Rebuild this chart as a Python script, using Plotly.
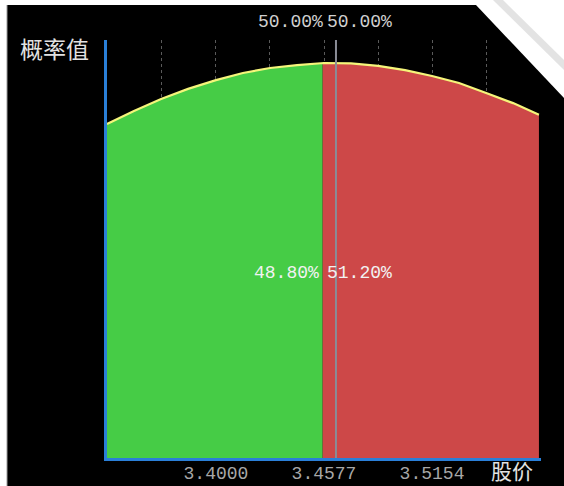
import numpy as np
import plotly.graph_objects as go

# ---- data ----
prices = [3.3418, 3.3562, 3.3707, 3.3851, 3.4000, 3.4144, 3.4289, 3.4433, 3.4577,
          3.4721, 3.4866, 3.5010, 3.5154, 3.5298, 3.5443, 3.5587, 3.5725]
probs = [0.0799, 0.0830, 0.0859, 0.0883, 0.0904, 0.0921, 0.0933, 0.0940, 0.0945,
         0.0944, 0.0938, 0.0928, 0.0914, 0.0897, 0.0873, 0.0849, 0.0821]
split_price = 3.4570          # green / red boundary
current_price = 3.4641        # gray marker line
grid_vals = [3.3711, 3.4000, 3.4288, 3.4577, 3.4866, 3.5154, 3.5443]
grid_text = ["", "3.4000", "", "3.4577", "", "3.5154", ""]
left_pct, right_pct = "48.80%", "51.20%"
top_left_pct, top_right_pct = "50.00%", "50.00%"
x_range = [3.3418, 3.5736]
y_range = [0, 0.1]

W, H = 564, 486
L, R, T, B = 107, 23, 40, 28

px = np.array(prices)
py = np.array(probs)
ys = float(np.interp(split_price, px, py))
gx = list(px[px < split_price]) + [split_price]
gy = list(py[px < split_price]) + [ys]
rx = [split_price] + list(px[px > split_price])
ry = [ys] + list(py[px > split_price])

fig = go.Figure()
fig.add_trace(go.Scatter(x=gx, y=gy, mode="lines", fill="tozeroy",
                         fillcolor="#46CC46", line=dict(width=0, color="#46CC46"),
                         hoverinfo="skip", showlegend=False))
fig.add_trace(go.Scatter(x=rx, y=ry, mode="lines", fill="tozeroy",
                         fillcolor="#CD4848", line=dict(width=0, color="#CD4848"),
                         hoverinfo="skip", showlegend=False))
fig.add_trace(go.Scatter(x=prices, y=probs, mode="lines",
                         line=dict(width=2.2, color="#F5F57A"),
                         hoverinfo="skip", showlegend=False))

mono = "Liberation Mono, DejaVu Sans Mono, monospace"
cjk = "Noto Sans CJK SC"

def pxx(p):
    return (p - L) / (W - L - R)

def pxy(p):
    return (H - B - p) / (H - T - B)

shapes = [
    # current price line
    dict(type="line", xref="x", yref="paper", x0=current_price, x1=current_price,
         y0=0, y1=1, line=dict(color="#8A8C96", width=2), layer="above"),
    # screenshot white border (left, top) and page curl
    dict(type="rect", xref="paper", yref="paper", x0=pxx(0), x1=pxx(7), y0=pxy(0), y1=pxy(H),
         fillcolor="white", line=dict(width=0), layer="above"),
    dict(type="line", xref="paper", yref="paper", x0=pxx(7), x1=pxx(7), y0=pxy(5), y1=pxy(H),
         line=dict(color="#9a9a9a", width=1), layer="above"),
    dict(type="rect", xref="paper", yref="paper", x0=pxx(0), x1=pxx(W), y0=pxy(0), y1=pxy(5),
         fillcolor="white", line=dict(width=0), layer="above"),
    dict(type="path", xref="paper", yref="paper",
         path=f"M {pxx(476)} {pxy(5)} L {pxx(W)} {pxy(5)} L {pxx(W)} {pxy(98)} Z",
         fillcolor="white", line=dict(width=0), layer="above"),
    dict(type="path", xref="paper", yref="paper",
         path=f"M {pxx(493)} {pxy(0)} L {pxx(503)} {pxy(0)} L {pxx(W)} {pxy(60)} L {pxx(W)} {pxy(70)} Z",
         fillcolor="#dcdcdc", line=dict(width=0), layer="above", opacity=0.8),
]

annotations = [
    dict(text="概率值", xref="paper", yref="paper", x=pxx(54), y=pxy(48),
         showarrow=False, font=dict(family=cjk, size=23, color="#E2E2E2"),
         xanchor="center", yanchor="middle"),
    dict(text="股价", xref="paper", yref="paper", x=pxx(512), y=pxy(470),
         showarrow=False, font=dict(family=cjk, size=21, color="#E2E2E2"),
         xanchor="center", yanchor="middle"),
    dict(text=top_left_pct, xref="x", yref="paper", x=prices[8], y=pxy(22),
         showarrow=False, font=dict(family=mono, size=18, color="#D0D0D0"),
         xanchor="right", yanchor="middle", xshift=1),
    dict(text=top_right_pct, xref="x", yref="paper", x=prices[8], y=pxy(22),
         showarrow=False, font=dict(family=mono, size=18, color="#D0D0D0"),
         xanchor="left", yanchor="middle", xshift=1),
    dict(text=left_pct, xref="x", yref="paper", x=split_price, y=pxy(273),
         showarrow=False, font=dict(family=mono, size=18, color="#F2F2F2"),
         xanchor="right", yanchor="middle", xshift=-2),
    dict(text=right_pct, xref="x", yref="paper", x=split_price, y=pxy(273),
         showarrow=False, font=dict(family=mono, size=18, color="#F2F2F2"),
         xanchor="left", yanchor="middle", xshift=2),
]

fig.update_layout(
    template="none",
    width=W, height=H, autosize=False,
    margin=dict(l=L, r=R, t=T, b=B, pad=0, autoexpand=False),
    paper_bgcolor="black", plot_bgcolor="black",
    shapes=shapes, annotations=annotations,
    xaxis=dict(range=x_range, tickvals=grid_vals, ticktext=grid_text, automargin=False,
               showgrid=True, gridcolor="#5a5a5a", gridwidth=1, griddash="dot",
               showline=True, linecolor="#2A7FD8", linewidth=3, zeroline=False,
               ticks="", ticklabelstandoff=-4,
               tickfont=dict(family=mono, size=18, color="#A8A8A8"),
               fixedrange=True),
    yaxis=dict(range=y_range, showgrid=False, zeroline=False, showticklabels=False,
               automargin=False,
               showline=True, linecolor="#2A7FD8", linewidth=3, ticks="",
               fixedrange=True),
)

fig.write_html("out.html", config={"displayModeBar": False},
               post_script="document.body.style.margin='0';")
